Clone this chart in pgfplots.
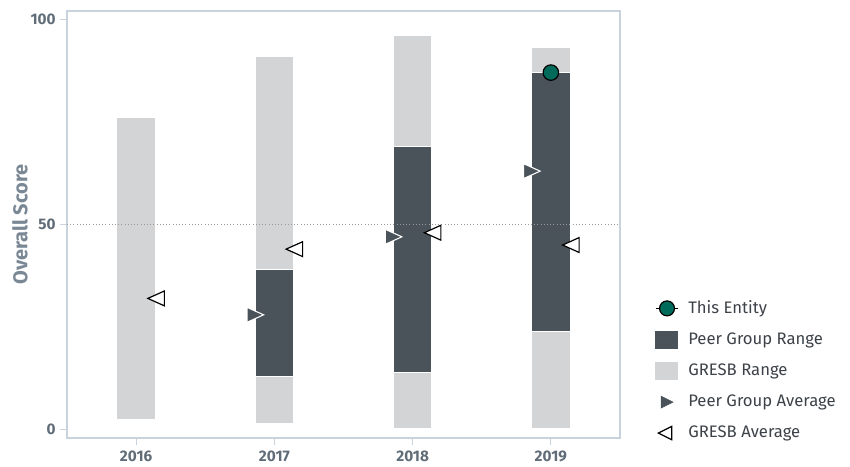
\documentclass[border=0pt]{standalone}
\usepackage{fontspec}
\setmainfont{Fira Sans}
\usepackage{pgfplots}
\usepackage{pgfplotstable}
\pgfplotsset{compat=1.18}

\definecolor{gresbgray}{HTML}{D3D4D6}
\definecolor{peerdark}{HTML}{4A525A}
\definecolor{entity}{HTML}{006B5B}
\definecolor{framecol}{HTML}{C8D3DE}
\definecolor{ticktext}{HTML}{606C78}
\definecolor{labeltext}{HTML}{7A8896}
\definecolor{legendtext}{HTML}{3C4248}
\definecolor{gridcol}{HTML}{9A9A9A}

% range per year: GRESB low/high, peer group low/high
% (2016 has no peer group range, so plo = phi = ghi)
\pgfplotstableread{
x glo plo phi ghi
0 2.5 76 76 76
1 1.5 13 39 91
2 0.4 14 69 96
3 0.4 24 87 93
}\ranges

\pgfplotstableread{
x peer gresb
0 nan 32
1 28 44
2 47 48
3 63 45
}\averages

\pgfdeclareplotmark{tri right}{%
  \pgfpathmoveto{\pgfqpoint{\pgfplotmarksize}{0pt}}%
  \pgfpathlineto{\pgfqpoint{-\pgfplotmarksize}{0.9\pgfplotmarksize}}%
  \pgfpathlineto{\pgfqpoint{-\pgfplotmarksize}{-0.9\pgfplotmarksize}}%
  \pgfpathclose\pgfusepathqfillstroke}
\pgfdeclareplotmark{tri left}{%
  \pgfpathmoveto{\pgfqpoint{-\pgfplotmarksize}{0pt}}%
  \pgfpathlineto{\pgfqpoint{\pgfplotmarksize}{0.9\pgfplotmarksize}}%
  \pgfpathlineto{\pgfqpoint{\pgfplotmarksize}{-0.9\pgfplotmarksize}}%
  \pgfpathclose\pgfusepathqfillstroke}

\pgfplotsset{
  common/.style={
    width=414.75pt, height=320.25pt, scale only axis,
    xmin=-0.5, xmax=3.5, ymin=-2, ymax=102,
  },
}

\begin{document}
\begin{tikzpicture}
\path (-50.25pt,-21pt) rectangle (587.25pt,328.5pt);

% bars
\begin{axis}[
  common,
  ybar stacked, bar width=29pt,
  axis on top,
  axis line style={framecol, line width=0.9pt},
  tick style={framecol, line width=0.9pt},
  tick align=outside, major tick length=5pt,
  xtick={0,1,2,3}, xticklabels={2016,2017,2018,2019},
  ytick={0,50,100},
  extra y ticks={50}, extra y tick labels={},
  extra y tick style={grid=major, major tick length=0pt},
  grid style={gridcol, dotted, line width=0.6pt},
  xtick pos=bottom, ytick pos=left,
  ticklabel style={font=\bfseries\fontsize{11.5}{13}\selectfont, text=ticktext},
  xticklabel style={yshift=-1.5pt},
  /pgf/number format/assume math mode=true,
  ylabel={Overall Score},
  ylabel style={at={(axis description cs:-0.085,0.5)}, anchor=center,
    font=\bfseries\fontsize{15}{17}\selectfont, text=labeltext},
]
\addplot[draw=none, fill=none, forget plot] table[x=x, y=glo] {\ranges};
\addplot[fill=gresbgray, draw=white, line width=0.8pt] table[x=x, y expr=\thisrow{plo}-\thisrow{glo}] {\ranges};
\addplot[fill=peerdark, draw=white, line width=0.8pt] table[x=x, y expr=\thisrow{phi}-\thisrow{plo}] {\ranges};
\addplot[fill=gresbgray, draw=white, line width=0.8pt] table[x=x, y expr=\thisrow{ghi}-\thisrow{phi}] {\ranges};
\end{axis}

% markers and legend
\begin{axis}[
  common, hide axis, clip=false,
  legend style={at={(axis description cs:1.063,0.328)}, anchor=north west,
    draw=none, fill=none, font=\fontsize{12.5}{15}\selectfont, text=legendtext,
    row sep=9pt, column sep=5pt, inner sep=0pt},
  legend cell align=left,
]
\addplot[only marks, mark=*, mark size=5.8pt,
  mark options={fill=entity, draw=black, line width=0.9pt},
  legend image code/.code={
    \draw[black, line width=0.9pt] (0pt,0pt) -- (17pt,0pt);
    \fill[entity, draw=black, line width=0.9pt] (8.5pt,0pt) circle (5.6pt);}]
  coordinates {(3,87)};
\addlegendentry{This Entity}
\addlegendimage{legend image code/.code={
    \fill[peerdark] (0pt,-6.5pt) rectangle (16.5pt,6.5pt);}}
\addlegendentry{Peer Group Range}
\addlegendimage{legend image code/.code={
    \fill[gresbgray] (0pt,-6.5pt) rectangle (16.5pt,6.5pt);}}
\addlegendentry{GRESB Range}
\addplot[only marks, mark=tri right, mark size=6.2pt,
  mark options={fill=peerdark, draw=white, line width=0.8pt, xshift=-14.25pt},
  legend image code/.code={
    \fill[peerdark] (4pt,-4.5pt) -- (13pt,0pt) -- (4pt,4.5pt) -- cycle;}]
  table[x=x, y=peer] {\averages};
\addlegendentry{Peer Group Average}
\addplot[only marks, mark=tri left, mark size=6.2pt,
  mark options={fill=white, draw=black, line width=0.9pt, xshift=15pt},
  legend image code/.code={
    \draw[black, fill=white, line width=0.9pt] (12pt,-5pt) -- (2pt,0pt) -- (12pt,5pt) -- cycle;}]
  table[x=x, y=gresb] {\averages};
\addlegendentry{GRESB Average}
\end{axis}
\end{tikzpicture}
\end{document}
